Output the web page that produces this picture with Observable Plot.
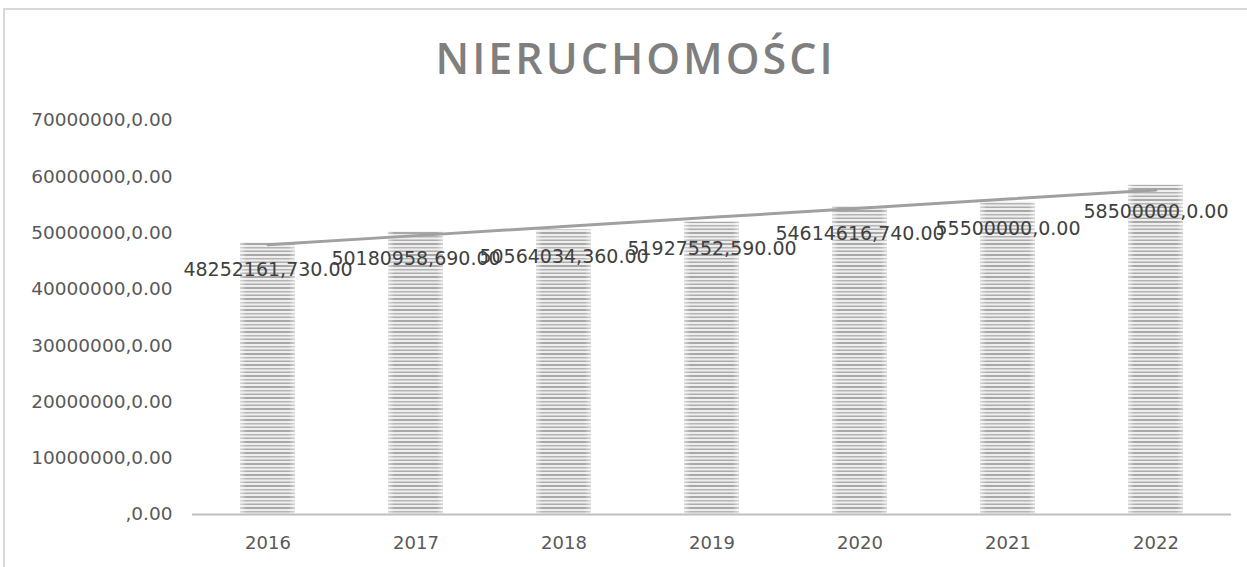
<!DOCTYPE html>
<html>
<head>
<meta charset="utf-8">
<script src="https://cdn.jsdelivr.net/npm/d3@7"></script>
<script src="https://cdn.jsdelivr.net/npm/@observablehq/plot@0.6"></script>
<style>
  html, body { margin: 0; padding: 0; background: #fff; overflow: hidden; }
  #frame { position: absolute; left: 3px; top: 8px; width: 1400px; height: 700px;
           border-left: 2px solid #d9d9d9; border-top: 2px solid #d9d9d9; }
  #title { position: absolute; left: 0; top: 0; width: 1247px; height: 100px;
           text-align: center; font-family: "Open Sans", sans-serif; font-weight: 600;
           font-size: 43px; letter-spacing: 3px; color: #7f7f7f; line-height: 100px;
           padding-top: 8px; padding-left: 24px; box-sizing: border-box; }
  #chart { position: absolute; left: 0; top: 100px; }
</style>
</head>
<body>
<div id="frame"></div>
<div id="title">NIERUCHOMOŚCI</div>
<div id="chart"></div>
<script>
const years = ["2016", "2017", "2018", "2019", "2020", "2021", "2022"];
const values = [48252161.73, 50180958.69, 50564034.36, 51927552.59, 54614616.74, 55500000, 58500000];
const valueLabels = ["48252161,730.00", "50180958,690.00", "50564034,360.00", "51927552,590.00",
                     "54614616,740.00", "55500000,0.00", "58500000,0.00"];
const yTicks = [0, 10000000, 20000000, 30000000, 40000000, 50000000, 60000000, 70000000];
const yTickLabels = [",0.00", "10000000,0.00", "20000000,0.00", "30000000,0.00",
                     "40000000,0.00", "50000000,0.00", "60000000,0.00", "70000000,0.00"];

const data = years.map((y, i) => ({year: y, value: values[i], label: valueLabels[i]}));

// linear trend (least squares over year index)
const n = values.length;
const mx = d3.mean(d3.range(n));
const my = d3.mean(values);
const slope = d3.sum(values, (v, i) => (i - mx) * (v - my)) / d3.sum(d3.range(n), i => (i - mx) ** 2);
const trend = years.map((y, i) => ({year: y, value: my + slope * (i - mx)}));

const defs = () => {
  const d = d3.create("svg:defs");
  const p = d.append("pattern").attr("id", "stripes").attr("patternUnits", "userSpaceOnUse")
    .attr("width", 10).attr("height", 11);
  p.append("rect").attr("width", 10).attr("height", 11).attr("fill", "#eeeeee");
  p.append("rect").attr("y", 0).attr("width", 10).attr("height", 2).attr("fill", "#a8a8a8");
  p.append("rect").attr("y", 4).attr("width", 10).attr("height", 1.5).attr("fill", "#b4b4b4");
  p.append("rect").attr("y", 7.5).attr("width", 10).attr("height", 1.5).attr("fill", "#acacac");
  const g = d.append("linearGradient").attr("id", "sheen");
  g.append("stop").attr("offset", "0").attr("stop-color", "#fff").attr("stop-opacity", 0.5);
  g.append("stop").attr("offset", "0.12").attr("stop-color", "#fff").attr("stop-opacity", 0);
  g.append("stop").attr("offset", "0.88").attr("stop-color", "#fff").attr("stop-opacity", 0);
  g.append("stop").attr("offset", "1").attr("stop-color", "#fff").attr("stop-opacity", 0.5);
  return d.node();
};

const chart = Plot.plot({
  width: 1247,
  height: 467,
  marginLeft: 192,
  marginRight: 16,
  marginTop: 20,
  marginBottom: 53,
  style: {fontFamily: "DejaVu Sans, sans-serif", fontSize: "18px", color: "#595959", background: "transparent"},
  x: {domain: years, paddingInner: 0.63, paddingOuter: 0.315, align: 0.5, label: null, tickSize: 0, tickPadding: 22},
  y: {domain: [0, 70000000], label: null},
  marks: [
    defs,
    Plot.barY(data, {x: "year", y: "value", fill: "url(#stripes)"}),
    Plot.barY(data, {x: "year", y: "value", fill: "url(#sheen)"}),
    Plot.ruleY([0], {stroke: "#bfbfbf", strokeWidth: 2}),
    Plot.axisY(yTicks, {tickSize: 0, tickPadding: 20, fontSize: 18.5, tickFormat: (d) => yTickLabels[yTicks.indexOf(d)], fill: "#595959"}),
    Plot.line(trend, {x: "year", y: "value", stroke: "#a0a0a0", strokeWidth: 3}),
    Plot.text(data, {x: "year", y: "value", text: "label", dy: 27, fill: "#404040", fontSize: 19})
  ]
});
document.getElementById("chart").appendChild(chart);
</script>
</body>
</html>
